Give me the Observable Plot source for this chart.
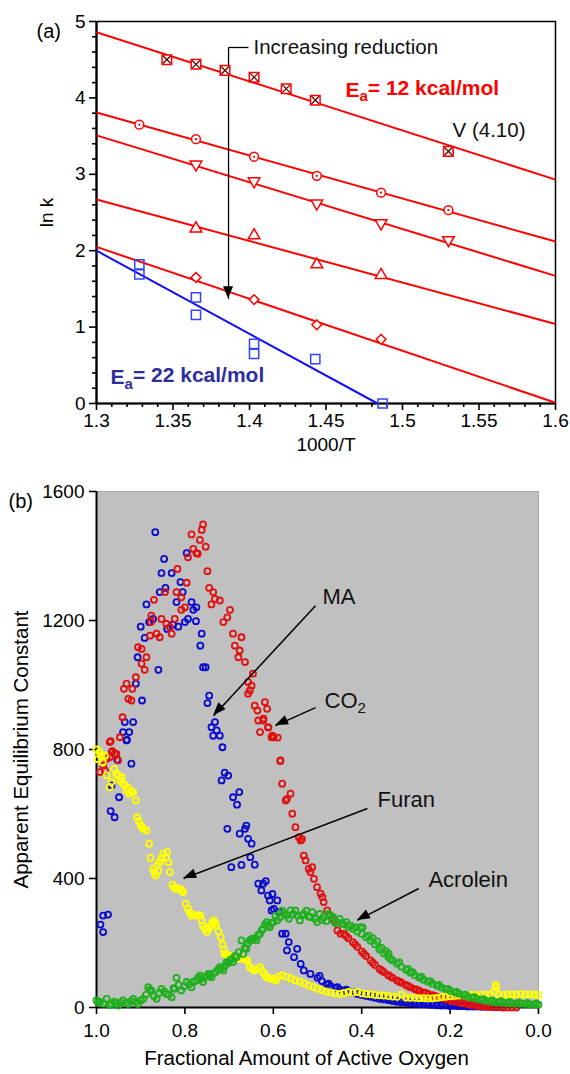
<!DOCTYPE html>
<html>
<head>
<meta charset="utf-8">
<script src="https://cdn.jsdelivr.net/npm/d3@7"></script>
<script src="https://cdn.jsdelivr.net/npm/@observablehq/plot@0.6"></script>
<style>
  body { margin: 0; background: white; }
  #a svg, #b svg { display: block; }
</style>
</head>
<body>
<div id="a"></div>
<div id="b"></div>
<script>
// ---------- Panel (a): ln k vs 1000/T ----------
const xTicksA = [1.3, 1.35, 1.4, 1.45, 1.5, 1.55, 1.6];
const xMinorA = [1.31, 1.32, 1.33, 1.34, 1.36, 1.37, 1.38, 1.39, 1.41, 1.42, 1.43, 1.44, 1.46, 1.47, 1.48, 1.49, 1.51, 1.52, 1.53, 1.54, 1.56, 1.57, 1.58, 1.59];
const yTicksA = [0, 1, 2, 3, 4, 5];
const yMinorA = [0.2, 0.4, 0.6, 0.8, 1.2, 1.4, 1.6, 1.8, 2.2, 2.4, 2.6, 2.8, 3.2, 3.4, 3.6, 3.8, 4.2, 4.4, 4.6, 4.8];

// series (red, Ea = 12 kcal/mol), from most oxidised to most reduced
const s1X = [1.346, 1.365, 1.384, 1.403, 1.424, 1.443, 1.53];   // V (4.10), boxed cross
const s1Y = [4.50, 4.44, 4.36, 4.27, 4.12, 3.97, 3.30];
const s2X = [1.328, 1.365, 1.403, 1.444, 1.486, 1.53];          // circle with dot
const s2Y = [3.65, 3.46, 3.23, 2.98, 2.76, 2.53];
const s3X = [1.365, 1.403, 1.444, 1.486, 1.53];                 // down triangles
const s3Y = [3.13, 2.91, 2.62, 2.36, 2.14];
const s4X = [1.365, 1.403, 1.444, 1.486];                       // up triangles
const s4Y = [2.29, 2.20, 1.82, 1.68];
const s5X = [1.365, 1.403, 1.444, 1.486];                       // diamonds
const s5Y = [1.65, 1.36, 1.03, 0.84];
// blue series (Ea = 22 kcal/mol)
const s6X = [1.328, 1.328, 1.365, 1.365, 1.403, 1.403, 1.443, 1.487];
const s6Y = [1.82, 1.69, 1.39, 1.16, 0.78, 0.65, 0.58, 0.0];

// fitted Arrhenius lines (start / end)
const fitX1 = [1.3, 1.3, 1.3, 1.3, 1.3, 1.3];
const fitY1 = [4.86, 3.81, 3.51, 2.67, 2.05, 2.0];
const fitX2 = [1.6, 1.6, 1.6, 1.6, 1.6, 1.4837];
const fitY2 = [2.93, 2.12, 1.67, 1.04, 0.01, 0.0];
const fitKind = ["12", "12", "12", "12", "12", "22"];

// annotations panel (a)
const arrowA = {x: 1.3863, yTop: 4.66, yTip: 1.37, xTick: 1.3993};
const notesA = [
  {x: 1.4026, y: 4.66, text: "Increasing reduction", kind: "plain"},
  {x: 1.4627, y: 4.10, text: "Ea= 12 kcal/mol", kind: "red"},
  {x: 1.5327, y: 3.57, text: "V (4.10)", kind: "plain"},
  {x: 1.3092, y: 0.34, text: "Ea= 22 kcal/mol", kind: "blue"}
];

// ---------- Panel (b): apparent equilibrium constant ----------
const xTicksB = [1.0, 0.8, 0.6, 0.4, 0.2, 0.0];
const yTicksB = [0, 400, 800, 1200, 1600];

const maPts = [
[0.991,257],[0.985,285],[0.985,234],[0.974,288],
[0.968,609],[0.966,688],[0.959,590],[0.953,768],[0.949,652],[0.940,854],[0.936,885],[0.932,828],[0.931,830],[0.926,854],[0.921,756],[0.917,885],
[0.911,1004],[0.907,1086],[0.900,1181],[0.897,952],[0.891,1146],[0.887,1250],[0.881,1195],[0.872,1205],[0.867,1474],[0.860,1047],[0.857,1288],[0.853,1347],[0.847,1391],[0.844,1301],[0.840,1174],[0.830,1347],[0.827,1187],[0.819,1257],[0.815,1181],[0.810,1319],[0.805,1288],[0.800,1195],[0.796,1409],[0.793,1205],[0.785,1257],[0.781,1233],[0.775,1198],[0.774,1241],[0.765,1122],[0.762,1159],[0.759,1055],[0.753,1055],[0.749,944],[0.745,967],[0.740,869],[0.736,843],[0.732,885],[0.728,859],[0.721,843],[0.715,807],[0.717,704],[0.710,728],[0.702,719],[0.704,554],[0.695,435],[0.691,652],[0.682,629],[0.677,668],[0.676,539],[0.672,442],[0.664,554],[0.661,564],[0.657,523],[0.652,466],[0.649,508],[0.642,443],[0.634,384],[0.627,363],[0.623,384],[0.617,392],[0.612,347],[0.608,332],[0.604,301],[0.602,352],[0.599,306],[0.591,332],[0.587,296],[0.580,229],[0.572,229],[0.569,177],[0.565,203],[0.553,156],[0.546,182],[0.538,135],[0.531,115],[0.516,104],
[0.50,92],[0.49,82],[0.48,72],[0.47,66],[0.46,60],[0.45,56],[0.44,52],[0.43,49],[0.42,46],[0.41,42],[0.40,39],[0.39,36],[0.38,33],[0.37,30],[0.36,27],[0.35,25],[0.34,23],[0.33,20],[0.32,18],[0.31,16],[0.30,15],[0.29,13],[0.28,12],[0.27,11],[0.26,10],[0.25,9],[0.24,8],[0.23,7],[0.22,6],[0.21,6],[0.20,5],[0.19,5],[0.18,4],[0.17,4],[0.16,3],[0.15,3],[0.14,3],[0.13,2],[0.12,2],[0.11,2],[0.10,2],[0.09,1],[0.08,1],
[0.495,98],[0.475,74],[0.455,63],[0.435,55],[0.415,47],[0.395,41],[0.375,36],[0.355,30],[0.335,25],[0.315,21],[0.295,18],[0.275,16],[0.255,13],[0.235,11],[0.215,9],[0.195,8],[0.175,6],[0.155,5],[0.135,4]
];

const co2Pts = [
[0.992,730],[0.985,750],[0.981,735],[0.977,771],[0.970,823],[0.966,792],[0.959,787],[0.951,766],
[0.970,776],[0.964,795],[0.955,786],[0.968,826],[0.947,838],[0.941,900],
[0.938,988],[0.932,1004],[0.928,957],[0.921,952],[0.919,988],[0.911,1024],
[0.906,1117],[0.898,1112],[0.887,1086],[0.898,1066],[0.891,1047],
[0.879,1153],[0.877,1195],[0.876,1215],[0.870,1264],[0.864,1159],[0.857,1148],[0.853,1205],[0.845,1288],[0.842,1190],[0.834,1179],[0.830,1159],[0.823,1205],[0.819,1288],[0.817,1360],[0.808,1272],[0.808,1233],[0.800,1241],[0.796,1317],[0.793,1396],[0.785,1467],[0.781,1422],[0.774,1409],[0.771,1407],[0.766,1450],[0.762,1481],[0.759,1498],[0.753,1429],[0.749,1353],[0.745,1301],[0.740,1250],[0.736,1288],[0.732,1267],[0.721,1262],[0.713,1195],[0.704,1210],[0.698,1233],[0.691,1159],[0.687,1122],[0.679,1086],[0.676,1107],[0.672,1148],[0.664,1071],[0.657,1009],[0.653,983],[0.649,998],[0.646,1035],[0.657,973],[0.642,936],[0.636,921],[0.634,890],[0.630,854],[0.623,890],[0.622,896],[0.619,947],[0.614,926],[0.612,869],[0.611,868],[0.604,838],[0.602,843],[0.599,838],[0.590,837],[0.584,766],[0.584,764],[0.580,694],[0.572,642],[0.569,647],[0.561,663],[0.557,601],[0.550,559],[0.542,528],[0.538,518],[0.535,523],[0.531,471],[0.527,456],[0.520,430],[0.516,420],[0.512,435],[0.508,399],[0.501,373],[0.493,353],[0.489,342],[0.486,327],[0.478,301],[0.471,285],[0.463,270],[0.455,239],[0.448,229],
[0.44,228],[0.43,215],[0.42,203],[0.41,188],[0.40,174],[0.39,160],[0.38,146],[0.37,132],[0.36,120],[0.35,110],[0.34,101],[0.33,92],[0.32,84],[0.31,77],[0.30,70],[0.29,63],[0.28,57],[0.27,52],[0.26,47],[0.25,42],[0.24,38],[0.23,34],[0.22,30],[0.21,26],[0.20,22],[0.19,19],[0.18,16],[0.17,13],[0.16,10],[0.15,8],[0.14,6],[0.13,4],[0.12,3],[0.11,2],[0.10,1],[0.09,1],[0.08,0],[0.07,0],[0.06,0],[0.05,0],
[0.435,222],[0.415,196],[0.395,167],[0.375,139],[0.355,115],[0.335,96],[0.315,80],[0.295,67],[0.275,55],[0.255,45],[0.235,36],[0.215,28],[0.195,20],[0.175,14],[0.155,9],[0.135,5],[0.115,2]
];

const furanPts = [
[1.0,800],[0.997,770],[0.993,792],[0.989,780],[0.986,760],[0.981,781],[0.977,720],[0.970,683],[0.966,700],[0.960,740],[0.955,725],[0.951,720],[0.946,705],[0.943,714],[0.940,694],[0.936,690],[0.932,673],[0.928,680],[0.925,663],[0.921,670],[0.917,668],[0.911,642],[0.908,590],[0.904,578],[0.900,564],[0.897,560],[0.894,554],[0.887,549],[0.881,508],[0.878,464],[0.872,430],[0.869,418],[0.866,409],[0.863,440],[0.860,425],[0.857,451],[0.853,462],[0.849,477],[0.843,466],[0.840,482],[0.837,450],[0.834,420],[0.828,381],[0.824,372],[0.821,368],[0.815,370],[0.811,368],[0.807,362],[0.804,358],[0.798,322],[0.793,306],[0.789,295],[0.785,285],[0.780,286],[0.774,285],[0.769,286],[0.765,285],[0.762,270],[0.759,254],[0.755,244],[0.750,234],[0.746,245],[0.742,254],[0.738,262],[0.735,270],[0.732,262],[0.729,254],[0.724,236],[0.719,218],[0.715,195],[0.712,180],[0.710,166],[0.705,163],[0.700,161],[0.695,160],[0.691,161],[0.686,155],[0.680,155],[0.674,152],[0.668,151],[0.663,148],[0.659,146],[0.653,125],[0.648,120],[0.642,115],[0.636,120],[0.630,125],[0.623,110],[0.619,102],[0.615,94],[0.610,92],[0.604,89],[0.599,88],[0.594,84],
[0.59,96],[0.58,100],[0.57,95],[0.56,90],[0.55,84],[0.54,80],[0.53,75],[0.52,68],[0.51,64],[0.50,58],[0.49,54],[0.48,50],[0.47,47],[0.46,44],[0.45,42],[0.44,45],[0.43,48],[0.42,46],[0.41,48],[0.40,44],[0.39,42],[0.38,41],[0.37,39],[0.36,38],[0.35,37],[0.34,36],[0.33,34],[0.32,33],[0.31,40],[0.30,31],[0.29,30],[0.28,30],[0.27,29],[0.26,29],[0.25,28],[0.24,28],[0.23,30],[0.22,32],[0.21,33],[0.20,35],[0.19,36],[0.18,37],[0.17,38],[0.16,38],[0.15,39],[0.14,38],[0.13,40],[0.12,39],[0.11,40],[0.10,50],[0.097,70],[0.096,62],[0.09,40],[0.08,39],[0.07,40],[0.06,41],[0.05,40],[0.04,42],[0.03,40],[0.02,41],[0.01,40],[0.00,39]
];

const acroleinPts = [
[1.0,22],[0.996,15],[0.992,17],[0.985,12],[0.977,27],[0.970,8],[0.966,11],[0.960,18],[0.955,12],[0.951,6],[0.946,16],[0.940,22],[0.934,14],[0.928,11],[0.922,20],[0.917,27],[0.911,18],[0.906,11],[0.900,22],[0.894,27],[0.888,40],[0.883,63],[0.879,55],[0.876,53],[0.870,35],[0.864,27],[0.858,45],[0.853,58],[0.847,50],[0.842,42],[0.836,40],[0.830,32],[0.826,60],[0.823,58],[0.819,92],[0.814,70],[0.808,53],[0.802,65],[0.796,79],[0.790,72],[0.785,63],[0.780,80],[0.774,84],[0.770,92],[0.766,99],[0.762,90],[0.759,79],[0.753,96],[0.747,104],[0.744,100],[0.740,94],[0.735,106],[0.730,110],[0.725,118],[0.721,125],[0.717,122],[0.713,115],[0.709,130],[0.706,141],[0.702,138],[0.698,146],[0.694,150],[0.691,141],[0.687,160],[0.683,156],[0.678,172],[0.672,208],[0.668,166],[0.665,185],[0.661,182],[0.657,200],[0.653,208],[0.650,212],[0.646,213],[0.642,215],[0.638,208],[0.634,225],[0.630,229],[0.626,240],[0.623,244],[0.619,258],[0.615,265],[0.611,255],[0.608,249],[0.604,262],[0.600,265],
[0.595,285],[0.591,270],[0.585,280],[0.580,300],[0.576,291],[0.570,285],[0.565,275],[0.561,301],[0.555,290],[0.550,300],[0.546,285],[0.540,270],[0.535,285],[0.531,291],[0.525,300],[0.520,282],[0.516,280],[0.512,296],[0.505,275],[0.501,265],[0.495,290],[0.490,272],[0.486,280],[0.480,268],[0.475,290],[0.471,285],[0.465,280],[0.460,262],[0.455,265],[0.450,275],[0.444,260],[0.44,258],[0.435,265],[0.43,250],[0.425,254],[0.42,244],[0.414,248],[0.41,236],[0.403,249],[0.398,248],[0.40,228],[0.39,218],[0.384,223],[0.38,207],[0.375,215],[0.37,196],[0.365,205],[0.36,180],[0.355,185],[0.35,168],[0.345,175],[0.339,167],[0.34,157],[0.335,151],[0.33,146],[0.32,136],[0.315,140],[0.31,126],[0.30,117],[0.295,120],[0.29,108],[0.28,100],[0.27,93],[0.26,86],[0.25,80],[0.24,74],[0.23,68],[0.22,62],[0.21,57],[0.20,52],[0.19,47],[0.18,43],[0.17,38],[0.16,34],[0.15,30],[0.14,27],[0.13,24],[0.12,21],[0.11,19],[0.10,17],[0.09,16],[0.08,15],[0.07,14],[0.06,13],[0.05,12],[0.04,12],[0.03,11],[0.02,10],[0.01,10],[0.00,9],
[0.285,110],[0.265,95],[0.245,82],[0.225,70],[0.205,58],[0.185,48],[0.165,40],[0.145,32],[0.125,26],[0.105,22],[0.085,20],[0.065,17],[0.045,16],[0.025,14],[0.005,13]
];

// annotation arrows panel (b): start (label end) -> tip
const arrowsB = [
  {x1: 0.5045, y1: 1246, x2: 0.735, y2: 905},
  {x1: 0.5045, y1: 930,  x2: 0.595, y2: 874},
  {x1: 0.387,  y1: 617,  x2: 0.803, y2: 400},
  {x1: 0.271,  y1: 369,  x2: 0.41,  y2: 270}
];
const notesB = [
  {x: 0.4887, y: 1274, text: "MA"},
  {x: 0.484,  y: 949,  text: "CO2"},
  {x: 0.364,  y: 645,  text: "Furan"},
  {x: 0.249,  y: 397,  text: "Acrolein"}
];

// ---------------- drawing ----------------
const FONT = "'Liberation Sans', Arial, Helvetica, sans-serif";
const RED = "#ff0000";

function pts(X, Y) { return X.map((x, i) => ({x, y: Y[i]})); }
const fits = fitX1.map((x1, i) => ({x1, y1: fitY1[i], x2: fitX2[i], y2: fitY2[i], kind: fitKind[i]}));

const chartA = Plot.plot({
  width: 570, height: 460,
  marginTop: 21, marginRight: 15, marginBottom: 57, marginLeft: 96,
  x: {domain: [1.3, 1.6]},
  y: {domain: [0, 5]},
  style: {fontFamily: FONT, fontSize: "19px", background: "white", overflow: "visible", color: "black"},
  marks: [
    Plot.frame({stroke: "black", strokeWidth: 1.5}),
    Plot.axisX({ticks: xTicksA, tickSize: 7, tickPadding: 3, tickFormat: d => String(d), label: null, strokeWidth: 1.6, fontSize: 19}),
    Plot.axisX({ticks: xMinorA, tickSize: 4, tickFormat: () => "", label: null, strokeWidth: 1.6}),
    Plot.axisY({ticks: yTicksA, tickSize: 7, tickPadding: 4, tickFormat: d => String(d), label: null, strokeWidth: 1.6, fontSize: 19}),
    Plot.axisY({ticks: yMinorA, tickSize: 4, tickFormat: () => "", label: null, strokeWidth: 1.6}),
    Plot.ruleX([1.3], {stroke: "black", strokeWidth: 2.2}),
    Plot.ruleY([0], {stroke: "black", strokeWidth: 2.2}),
    Plot.link(fits.filter(d => d.kind === "12"), {x1: "x1", y1: "y1", x2: "x2", y2: "y2", stroke: RED, strokeWidth: 2}),
    Plot.link(fits.filter(d => d.kind === "22"), {x1: "x1", y1: "y1", x2: "x2", y2: "y2", stroke: "#1010ee", strokeWidth: 2}),
    // reduction arrow
    Plot.link([arrowA], {x1: "x", y1: "yTop", x2: "x", y2: "yTip", stroke: "black", strokeWidth: 1.3}),
    Plot.link([arrowA], {x1: "x", y1: "yTop", x2: "xTick", y2: "yTop", stroke: "black", strokeWidth: 1.3}),
    // markers
    Plot.dot(pts(s1X, s1Y), {x: "x", y: "y", symbol: "square", r: 5.4, stroke: RED, strokeWidth: 1.5, fill: "white"}),
    Plot.dot(pts(s1X, s1Y), {x: "x", y: "y", symbol: "times", r: 3.6, stroke: "#660000", strokeWidth: 1.3}),
    Plot.dot(pts(s2X, s2Y), {x: "x", y: "y", symbol: "circle", r: 4.4, stroke: RED, strokeWidth: 1.5, fill: "white"}),
    Plot.dot(pts(s2X, s2Y), {x: "x", y: "y", symbol: "circle", r: 1.1, fill: RED}),
    Plot.dot(pts(s3X, s3Y), {x: "x", y: "y", symbol: "triangle", rotate: 180, r: 4.3, stroke: RED, strokeWidth: 1.5, fill: "white"}),
    Plot.dot(pts(s4X, s4Y), {x: "x", y: "y", symbol: "triangle", r: 4.3, stroke: RED, strokeWidth: 1.5, fill: "white"}),
    Plot.dot(pts(s5X, s5Y), {x: "x", y: "y", symbol: "diamond2", r: 4.4, stroke: RED, strokeWidth: 1.5, fill: "white"}),
    Plot.dot(pts(s6X, s6Y), {x: "x", y: "y", symbol: "square", r: 5.2, stroke: "#3344ff", strokeWidth: 1.5}),
    // annotations
    Plot.text(notesA.filter(d => d.kind === "plain"), {x: "x", y: "y", text: "text", textAnchor: "start", fontSize: 20.5, fill: "#111"}),
    Plot.text(notesA.filter(d => d.kind === "red"), {x: "x", y: "y", text: "text", textAnchor: "start", fontSize: 21, fontWeight: "bold", fill: RED}),
    Plot.text(notesA.filter(d => d.kind === "blue"), {x: "x", y: "y", text: "text", textAnchor: "start", fontSize: 21, fontWeight: "bold", fill: "#2e2e9e"}),
    // labels
    Plot.text(["(a)"], {text: d => d, frameAnchor: "top-left", dx: -60, dy: 2, textAnchor: "start", fontSize: 20}),
    Plot.text(["ln k"], {text: d => d, frameAnchor: "left", dx: -50, rotate: -90, textAnchor: "middle", fontSize: 19}),
    Plot.text(["1000/T"], {text: d => d, frameAnchor: "bottom", dy: 47, textAnchor: "middle", fontSize: 19})
  ]
});

const xy = d => ({x: d[0], y: d[1]});
const chartB = Plot.plot({
  width: 570, height: 614,
  marginTop: 31, marginRight: 32, marginBottom: 67, marginLeft: 96,
  x: {domain: [1, 0]},
  y: {domain: [0, 1600]},
  style: {fontFamily: FONT, fontSize: "19px", background: "white", overflow: "visible", color: "black"},
  marks: [
    Plot.frame({fill: "#c0c0c0", stroke: "#a8a8a8", strokeWidth: 1}),
    Plot.axisX({ticks: xTicksB, tickSize: 7, tickPadding: 9, tickFormat: d3.format(".1f"), label: null, strokeWidth: 1.6, fontSize: 19}),
    Plot.axisY({ticks: yTicksB, tickSize: 7, tickPadding: 5, tickFormat: d => String(d), label: null, strokeWidth: 1.6, fontSize: 19}),
    Plot.ruleX([1], {stroke: "black", strokeWidth: 2}),
    Plot.ruleY([0], {stroke: "black", strokeWidth: 2}),
    Plot.dot(maPts.map(xy), {x: "x", y: "y", r: 3, stroke: "#0a0acc", strokeWidth: 1.8}),
    Plot.dot(co2Pts.map(xy), {x: "x", y: "y", r: 3, stroke: "#e01010", strokeWidth: 1.8}),
    Plot.dot(furanPts.map(xy), {x: "x", y: "y", r: 3, stroke: "#ffff00", strokeWidth: 1.8}),
    Plot.dot(acroleinPts.map(xy), {x: "x", y: "y", r: 3, stroke: "#1faf1f", strokeWidth: 1.8}),
    Plot.link(arrowsB, {x1: "x1", y1: "y1", x2: "x2", y2: "y2", stroke: "black", strokeWidth: 1.5}),
    Plot.text(notesB, {x: "x", y: "y", text: "text", textAnchor: "start", fontSize: 22, fill: "#111"}),
    Plot.text(["(b)"], {text: d => d, frameAnchor: "top-left", dx: -88, dy: 2, textAnchor: "start", fontSize: 20}),
    Plot.text(["Apparent Equilibrium Constant"], {text: d => d, frameAnchor: "left", dx: -75, rotate: -90, textAnchor: "middle", fontSize: 20.5}),
    Plot.text(["Fractional Amount of Active Oxygen"], {text: d => d, frameAnchor: "bottom", dx: -11, dy: 57, textAnchor: "middle", fontSize: 20.5})
  ]
});

// filled arrowheads, positioned through the charts' own scales
function addHead(svg, sx, sy, a, L, Wd) {
  const x1 = sx.apply(a.x1), y1 = sy.apply(a.y1), x2 = sx.apply(a.x2), y2 = sy.apply(a.y2);
  const dx = x2 - x1, dy = y2 - y1, len = Math.hypot(dx, dy);
  const ux = dx / len, uy = dy / len, nx = -uy, ny = ux;
  const bx = x2 - ux * L, by = y2 - uy * L;
  d3.select(svg).append("path")
    .attr("d", `M${x2},${y2}L${bx + nx * Wd / 2},${by + ny * Wd / 2}L${bx - nx * Wd / 2},${by - ny * Wd / 2}Z`)
    .attr("fill", "black");
}
{
  const sx = chartA.scale("x"), sy = chartA.scale("y");
  addHead(chartA, sx, sy, {x1: arrowA.x, y1: arrowA.yTop, x2: arrowA.x, y2: arrowA.yTip}, 12, 10);
  const sxb = chartB.scale("x"), syb = chartB.scale("y");
  arrowsB.forEach(a => addHead(chartB, sxb, syb, a, 13, 10));
}

// subscripts
function subscript(svg, full, base, sub, rest, subSize) {
  d3.select(svg).selectAll("text").each(function() {
    if (this.textContent === full) {
      const t = d3.select(this);
      t.text(null);
      t.append("tspan").text(base);
      t.append("tspan").attr("dy", "0.3em").attr("font-size", subSize).text(sub);
      if (rest) t.append("tspan").attr("dy", "-0.3em").text(rest);
    }
  });
}
subscript(chartA, "Ea= 12 kcal/mol", "E", "a", "= 12 kcal/mol", 15);
subscript(chartA, "Ea= 22 kcal/mol", "E", "a", "= 22 kcal/mol", 15);
subscript(chartB, "CO2", "CO", "2", null, 15);

document.getElementById("a").appendChild(chartA);
document.getElementById("b").appendChild(chartB);
</script>
</body>
</html>
